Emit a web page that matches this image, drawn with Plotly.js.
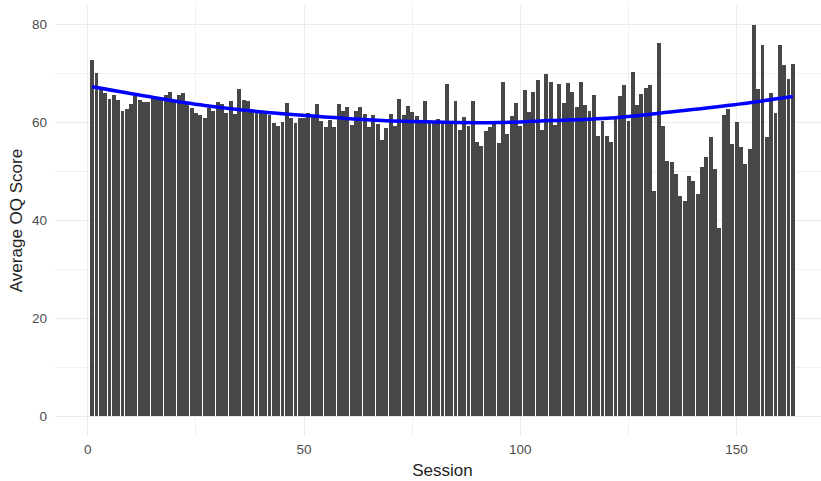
<!DOCTYPE html>
<html>
<head>
<meta charset="utf-8">
<script src="https://cdn.plot.ly/plotly-3.0.1.min.js"></script>
<style>
html,body{margin:0;padding:0;background:#fff;overflow:hidden;}
#chart{width:840px;height:481px;}
</style>
</head>
<body>
<div id="chart"></div>
<script>
const sessions = [1,2,3,4,5,6,7,8,9,10,11,12,13,14,15,16,17,18,19,20,
21,22,23,24,25,26,27,28,29,30,31,32,33,34,35,36,37,38,39,40,
41,42,43,44,45,46,47,48,49,50,51,52,53,54,55,56,57,58,59,60,
61,62,63,64,65,66,67,68,69,70,71,72,73,74,75,76,77,78,79,80,
81,82,83,84,85,86,87,88,89,90,91,92,93,94,95,96,97,98,99,100,
101,102,103,104,105,106,107,108,109,110,111,112,113,114,115,116,117,118,119,120,
121,122,123,124,125,126,127,128,129,130,131,132,133,134,135,136,137,138,139,140,
141,142,143,144,145,146,147,148,149,150,151,152,153,154,155,156,157,158,159,160,
161,162,163];

const avgOQ = [72.7,70.1,67.0,66.0,64.9,65.7,64.6,62.3,62.7,63.7,
65.5,64.7,64.2,64.2,64.8,65.0,64.8,65.6,66.2,64.5,
65.6,66.0,63.7,63.0,61.9,61.5,60.9,63.0,62.3,64.2,
63.8,62.0,64.4,61.8,66.9,64.6,64.5,62.3,62.0,62.0,
61.8,61.6,59.9,59.3,60.1,64.0,61.0,59.9,61.0,61.0,
62.0,61.3,63.7,60.3,59.0,60.6,59.0,63.8,62.3,63.1,
59.4,62.3,63.2,61.8,59.0,61.5,59.7,56.4,58.9,61.8,
59.3,64.9,61.6,63.3,62.1,61.3,60.3,64.4,59.9,60.4,
60.8,59.7,67.8,60.3,64.5,58.4,61.1,59.3,64.4,56.1,
55.2,58.2,59.0,59.9,55.9,68.3,57.7,61.4,64.0,59.3,
66.6,62.1,66.3,68.6,58.4,69.9,68.3,59.4,67.8,64.0,
68.1,66.2,63.1,68.3,63.5,62.3,65.7,57.2,60.4,57.2,
56.1,61.0,65.4,67.6,60.4,70.3,63.5,65.9,67.1,67.6,
46.1,76.2,59.3,52.1,52.0,49.5,45.0,43.9,49.0,48.0,
45.5,51.0,53.0,57.0,50.5,38.5,61.6,62.8,55.6,60.1,
55.0,51.6,54.6,79.9,66.9,75.9,57.0,66.0,62.0,75.9,
71.8,68.8,71.9];

// smooth trend at sample sessions
const smoothX = [1,14,27,41,54,68,81,95,107,122,134,149,163];
const smoothY = [67.3,65.3,63.5,62.1,61.2,60.4,60.1,60.0,60.4,61.0,62.1,63.6,65.3];

const xTicks = [0,50,100,150];
const yTicks = [0,20,40,60,80];

const bars = {
  type:'bar', x:sessions, y:avgOQ, width:0.9,
  marker:{color:'#474747', line:{width:0}},
  hoverinfo:'x+y', showlegend:false
};
const smooth = {
  type:'scatter', mode:'lines', x:smoothX, y:smoothY,
  line:{color:'#0000ff', width:3.5, shape:'spline', smoothing:1.0},
  showlegend:false
};

const layout = {
  width:840, height:481,
  margin:{l:55, r:10, t:5, b:45},
  paper_bgcolor:'#ffffff', plot_bgcolor:'#ffffff',
  bargap:0,
  font:{family:'Liberation Sans, Arial, sans-serif', color:'#4d4d4d'},
  xaxis:{
    range:[-7.6,171.6], tickmode:'array', tickvals:xTicks, ticktext:xTicks.map(String),
    showgrid:true, gridcolor:'#ebebeb', gridwidth:1.2, zeroline:false, showline:false, ticks:'',
    tickfont:{size:13.5, color:'#4d4d4d'}, ticklabelstandoff:3,
    minor:{tickmode:'array', tickvals:[25,75,125], showgrid:true, gridcolor:'#efefef', gridwidth:0.9},
    title:{text:'Session', font:{size:17, color:'#1f1f1f'}, standoff:8}
  },
  yaxis:{
    range:[-4,84], tickmode:'array', tickvals:yTicks, ticktext:yTicks.map(String),
    showgrid:true, gridcolor:'#ebebeb', gridwidth:1.2, zeroline:false, showline:false, ticks:'',
    tickfont:{size:13.5, color:'#4d4d4d'}, ticklabelstandoff:7,
    minor:{tickmode:'array', tickvals:[10,30,50,70], showgrid:true, gridcolor:'#efefef', gridwidth:0.9},
    title:{text:'Average OQ Score', font:{size:17, color:'#1f1f1f'}, standoff:5}
  }
};

Plotly.newPlot('chart', [bars, smooth], layout, {displayModeBar:false, staticPlot:true});
</script>
</body>
</html>
